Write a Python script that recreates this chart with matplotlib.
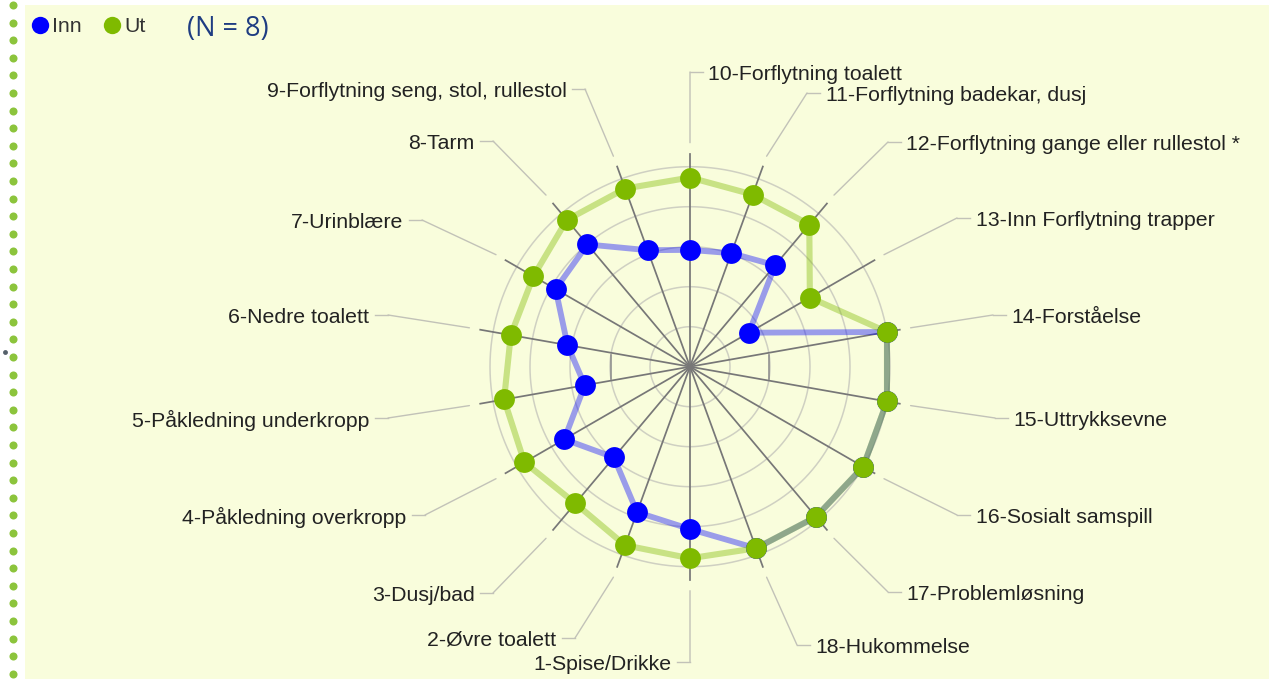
import numpy as np
import matplotlib
matplotlib.use("Agg")
import matplotlib.pyplot as plt
from matplotlib.patches import Rectangle

# ---------------- data ----------------
categories = [
    "1-Spise/Drikke", "2-Øvre toalett", "3-Dusj/bad", "4-Påkledning overkropp",
    "5-Påkledning underkropp", "6-Nedre toalett", "7-Urinblære", "8-Tarm",
    "9-Forflytning seng, stol, rullestol", "10-Forflytning toalett",
    "11-Forflytning badekar, dusj", "12-Forflytning gange eller rullestol *",
    "13-Inn Forflytning trapper", "14-Forståelse", "15-Uttrykksevne",
    "16-Sosialt samspill", "17-Problemløsning", "18-Hukommelse",
]
inn = [6.06, 5.87, 4.96, 5.63, 4.67, 5.11, 5.88, 5.99, 5.10,
       4.92, 5.02, 5.31, 3.70, 7.00, 7.00, 7.00, 6.90, 6.83]
ut = [6.79, 6.75, 6.46, 6.78, 6.72, 6.55, 6.52, 6.79, 6.74,
      6.73, 6.58, 6.64, 5.46, 7.00, 7.00, 7.00, 6.90, 6.83]
series_names = ["Inn", "Ut"]
grid_levels = [3, 4, 5, 6, 7]
r_min = 2
n_text = "(N = 8)"

# ---------------- style / layout ----------------
W, H = 1269, 679
BG = "#f9fddc"
BLUE = "#0000ff"
GREEN = "#7fba00"
LEADER = "#c2c2b8"
PX = 40.0                      # pixels per unit
CX, CY = 690, 366.7            # chart centre (pixels from top-left)
R_AX = 312.0                   # axes radius in pixels
r_max = r_min + R_AX / PX
# label anchor points (pixels, end of the slanted leader line)
label_anchor_px = [
    (690, 662), (575, 638), (493, 593), (425, 515), (388, 418), (388, 315),
    (422, 220), (493, 141), (585, 89), (690, 72), (807, 93), (888, 142),
    (957, 218), (993, 315), (995, 418), (957, 515), (888, 592), (797, 645),
]
FS = 15.3

fig = plt.figure(figsize=(W / 100, H / 100), dpi=100, facecolor="white")

# background / decoration axes in pixel coordinates
ax0 = fig.add_axes([0, 0, 1, 1])
ax0.set_xlim(0, W)
ax0.set_ylim(H, 0)
ax0.axis("off")
ax0.add_patch(Rectangle((25, 5), W - 25, H - 5, facecolor=BG, edgecolor="none"))
dots_y = np.arange(5, H, 17.6)
ax0.plot(np.full(dots_y.shape, 13), dots_y, "o", color="#8cc43c", ms=5.8, mec="none")
ax0.plot([5], [352], "o", color="#55606a", ms=3.5, mec="none")

# legend
ax0.plot([40], [25], "o", color=BLUE, ms=12.5, mec="none")
ax0.text(52, 26, series_names[0], fontsize=FS, family="Liberation Sans",
         color="#333333", va="center", ha="left")
ax0.plot([112], [25], "o", color=GREEN, ms=12.5, mec="none")
ax0.text(124, 26, series_names[1], fontsize=FS, family="Liberation Sans",
         color="#333333", va="center", ha="left")
ax0.text(187, 29, n_text, fontsize=19.5, family="Open Sans",
         color="#1f3d82", va="center", ha="left")

# polar axes
left = (CX - R_AX) / W
bottom = (H - (CY + R_AX)) / H
ax = fig.add_axes([left, bottom, 2 * R_AX / W, 2 * R_AX / H], projection="polar")
ax.set_theta_zero_location("S")
ax.set_theta_direction(-1)
ax.set_ylim(r_min, r_max)
ax.patch.set_visible(False)
ax.grid(False)
ax.set_xticks([])
ax.set_yticks([])
ax.spines["polar"].set_visible(False)

n = len(categories)
theta = np.deg2rad(np.arange(n) * 360.0 / n)

# grid circles
circ = np.linspace(0, 2 * np.pi, 721)
for lv in grid_levels:
    ax.plot(circ, np.full(circ.shape, lv), color="#cfd0c2", lw=1.1, zorder=1)

# small tick marks on the horizontal
tk = np.arctan2(12, 79)
rt = r_min + np.hypot(79, 12) / PX
for base in (np.pi / 2, 3 * np.pi / 2):
    ax.plot([base - tk, base + tk], [rt, rt], color="#8a8a8a", lw=1.1, zorder=2)

# spokes and leaders
for i, t in enumerate(theta):
    ax.plot([t, t], [r_min, r_min + 213 / PX], color="#777777", lw=1.25,
            zorder=2, clip_on=False)
    axp, ayp = label_anchor_px[i]
    ax.annotate("", xy=(t, r_min + 224 / PX), xytext=(axp, ayp),
                textcoords=ax0.transData,
                arrowprops=dict(arrowstyle="-", color=LEADER, lw=1.0,
                                shrinkA=0, shrinkB=0), annotation_clip=False)
    side = -1 if i < 9 else 1
    ax0.plot([axp, axp + side * 13], [ayp, ayp], color=LEADER, lw=1.0)
    ax0.text(axp + side * 18.5, ayp + 2.5, categories[i],
             ha="left" if side > 0 else "right", va="center", fontsize=FS,
             family="Liberation Sans", color="#222222")

# series
tc = np.append(theta, theta[0])
ax.plot(tc, np.append(inn, inn[0]), color=BLUE, alpha=0.38, lw=4.2, zorder=3,
        solid_joinstyle="round")
ax.plot(tc, np.append(ut, ut[0]), color=GREEN, alpha=0.4, lw=4.4, zorder=4,
        solid_joinstyle="round")
ax.plot(theta, inn, "o", color=BLUE, ms=15, mec="none", zorder=5)
ax.plot(theta, ut, "o", color=GREEN, ms=15, mec="none", zorder=6)

fig.savefig("out.png", dpi=100, facecolor="white")
